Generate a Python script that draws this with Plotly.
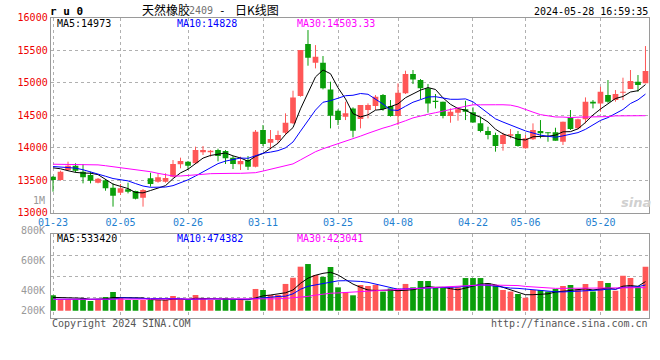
import plotly.graph_objects as go

# ---------------- data ----------------
dates = [
    "01-23", "01-24", "01-25", "01-26", "01-29", "01-30", "01-31", "02-01", "02-02",
    "02-05", "02-06", "02-07", "02-08",
    "02-19", "02-20", "02-21", "02-22", "02-23",
    "02-26", "02-27", "02-28", "02-29", "03-01",
    "03-04", "03-05", "03-06", "03-07", "03-08",
    "03-11", "03-12", "03-13", "03-14", "03-15",
    "03-18", "03-19", "03-20", "03-21", "03-22",
    "03-25", "03-26", "03-27", "03-28", "03-29",
    "04-01", "04-02", "04-03",
    "04-08", "04-09", "04-10", "04-11", "04-12",
    "04-15", "04-16", "04-17", "04-18", "04-19",
    "04-22", "04-23", "04-24", "04-25", "04-26",
    "04-29", "04-30",
    "05-06", "05-07", "05-08", "05-09", "05-10",
    "05-13", "05-14", "05-15", "05-16", "05-17",
    "05-20", "05-21", "05-22", "05-23", "05-24",
    "05-27", "05-28",
]

opens = [13554, 13502, 13656, 13723, 13630, 13579, 13461, 13497, 13385, 13308,
         13359, 13333, 13231, 13528, 13477, 13477, 13554, 13743, 13784, 13759,
         13928, 13928, 13964, 13948, 13846, 13743, 13810, 13707, 14271, 14076,
         14117, 14230, 14373, 14793, 15592, 15305, 15305, 14895, 14567, 14476,
         14603, 14440, 14578, 14639, 14808, 14639, 14486, 14834, 15131, 15039,
         14911, 14721, 14706, 14486, 14537, 14588, 14542, 14373, 14255, 14194,
         14056, 14184, 14209, 13989, 14127, 14255, 14235, 14235, 14091, 14465,
         14296, 14435, 14706, 14680, 14808, 14731, 14845, 14900, 15013, 14988]
highs = [13564, 13646, 13784, 13759, 13748, 13630, 13533, 13513, 13451, 13441,
         13461, 13338, 13364, 13615, 13605, 13605, 13810, 13846, 13795, 14015,
         14025, 13964, 13984, 13964, 13871, 13861, 13871, 14271, 14347, 14271,
         14261, 14527, 14875, 15500, 15807, 15576, 15408, 15013, 14588, 14706,
         14619, 14655, 14680, 14808, 14824, 14731, 14988, 15182, 15193, 15054,
         14977, 14824, 14706, 14603, 14619, 14721, 14619, 14476, 14321, 14230,
         14230, 14286, 14255, 14194, 14373, 14424, 14235, 14306, 14399, 14578,
         14445, 14772, 14731, 14936, 15039, 14885, 15075, 15193, 15116, 15561]
lows = [13323, 13492, 13646, 13615, 13451, 13451, 13451, 13338, 13093, 13272,
        13297, 13205, 13093, 13400, 13461, 13461, 13543, 13682, 13671, 13748,
        13887, 13861, 13790, 13748, 13671, 13656, 13656, 13697, 14025, 13974,
        14066, 14194, 14363, 14783, 15259, 15218, 14895, 14296, 14347, 14424,
        14158, 14296, 14450, 14578, 14567, 14476, 14347, 14824, 14977, 14741,
        14537, 14603, 14450, 14383, 14414, 14424, 14383, 14235, 14127, 13938,
        13953, 14143, 14015, 13984, 14117, 14143, 14091, 14107, 14040, 14271,
        14281, 14373, 14603, 14552, 14690, 14706, 14731, 14900, 14860, 14988]
closes = [13502, 13630, 13723, 13646, 13543, 13492, 13523, 13374, 13262, 13374,
          13323, 13216, 13349, 13441, 13543, 13533, 13748, 13795, 13723, 13964,
          13964, 13953, 13871, 13836, 13748, 13795, 13707, 14245, 14056, 14133,
          14194, 14383, 14772, 15500, 15382, 15398, 14911, 14491, 14424, 14527,
          14261, 14655, 14655, 14783, 14593, 14486, 14844, 15131, 15049, 14911,
          14680, 14700, 14486, 14552, 14588, 14552, 14388, 14255, 14194, 14025,
          14194, 14204, 14025, 14143, 14271, 14220, 14220, 14107, 14399, 14286,
          14435, 14706, 14680, 14860, 14706, 14824, 14860, 15024, 14962, 15177]

ma5 = [13690, 13675, 13645, 13620, 13609, 13607, 13585, 13516, 13439, 13405,
       13371, 13310, 13305, 13341, 13374, 13416, 13523, 13612, 13668, 13753,
       13839, 13880, 13895, 13918, 13874, 13841, 13791, 13866, 13910, 13987,
       14067, 14202, 14308, 14596, 14846, 15087, 15193, 15136, 14921, 14750,
       14523, 14472, 14504, 14576, 14589, 14634, 14672, 14767, 14821, 14884,
       14923, 14894, 14765, 14666, 14601, 14576, 14513, 14467, 14395, 14283,
       14211, 14174, 14128, 14118, 14167, 14173, 14176, 14192, 14243, 14246,
       14289, 14387, 14501, 14593, 14677, 14755, 14786, 14855, 14875, 14969]
ma10 = [13710, 13705, 13700, 13685, 13660, 13630, 13600, 13560, 13525, 13507,
        13489, 13448, 13410, 13390, 13390, 13394, 13416, 13458, 13505, 13564,
        13628, 13701, 13754, 13793, 13814, 13840, 13836, 13881, 13914, 13931,
        13954, 13997, 14087, 14253, 14417, 14577, 14697, 14722, 14759, 14798,
        14805, 14832, 14820, 14749, 14670, 14579, 14572, 14636, 14698, 14737,
        14779, 14783, 14766, 14743, 14743, 14749, 14704, 14616, 14531, 14442,
        14393, 14344, 14298, 14257, 14225, 14192, 14175, 14160, 14181, 14207,
        14231, 14281, 14347, 14418, 14462, 14522, 14586, 14678, 14734, 14823]
ma30 = [13745, 13745, 13743, 13742, 13740, 13738, 13735, 13722, 13707, 13697,
        13682, 13671, 13656, 13630, 13605, 13579, 13564, 13564, 13569, 13579,
        13590, 13600, 13605, 13605, 13605, 13605, 13607, 13615, 13640, 13667,
        13690, 13715, 13750, 13812, 13873, 13937, 13983, 14020, 14059, 14098,
        14129, 14177, 14220, 14265, 14300, 14332, 14368, 14413, 14457, 14489,
        14513, 14537, 14558, 14582, 14610, 14635, 14658, 14658, 14663, 14659,
        14659, 14653, 14628, 14583, 14546, 14507, 14484, 14471, 14470, 14462,
        14468, 14469, 14470, 14473, 14477, 14488, 14488, 14485, 14482, 14491]

volumes = [364000, 337000, 337000, 337000, 346000, 325000, 337000, 353000, 386000, 346000,
           332000, 332000, 332000, 332000, 332000, 332000, 359000, 332000, 332000, 366000,
           346000, 332000, 332000, 346000, 332000, 332000, 327000, 407000, 400000, 366000,
           366000, 441000, 483000, 558000, 576000, 502000, 489000, 556000, 418000, 386000,
           364000, 434000, 427000, 435000, 389000, 410000, 410000, 441000, 418000, 461000,
           461000, 418000, 418000, 418000, 418000, 481000, 481000, 481000, 445000, 434000,
           400000, 389000, 373000, 348000, 400000, 400000, 389000, 407000, 427000, 434000,
           405000, 441000, 389000, 461000, 447000, 395000, 497000, 481000, 418000, 558000]
vol_ma5 = [350000, 348000, 346000, 345000, 344000, 336000, 336000, 340000, 349000, 349000,
           351000, 350000, 346000, 335000, 332000, 332000, 337000, 337000, 337000, 344000,
           342000, 342000, 342000, 338000, 335000, 335000, 334000, 346000, 360000, 366000,
           374000, 381000, 400000, 445000, 480000, 500000, 513000, 520000, 502000, 470000,
           440000, 418000, 400000, 397000, 399000, 399000, 395000, 396000, 402000, 412000,
           423000, 418000, 418000, 409000, 401000, 413000, 426000, 439000, 444000, 435000,
           418000, 400000, 386000, 368000, 368000, 371000, 374000, 386000, 391000, 398000,
           401000, 408000, 400000, 406000, 414000, 405000, 426000, 430000, 425000, 457000]
vol_ma10 = [337000, 337000, 337000, 337000, 337000, 337000, 337000, 337000, 337000, 347000,
            344000, 343000, 343000, 342000, 341000, 341000, 344000, 342000, 336000, 338000,
            337000, 340000, 340000, 338000, 340000, 338000, 338000, 344000, 349000, 351000,
            356000, 358000, 374000, 405000, 425000, 435000, 445000, 455000, 462000, 463000,
            462000, 458000, 452000, 440000, 430000, 415000, 405000, 408000, 411000, 411000,
            413000, 415000, 417000, 418000, 420000, 425000, 430000, 434000, 432000, 425000,
            418000, 413000, 411000, 406000, 401000, 395000, 389000, 388000, 387000, 389000,
            392000, 395000, 397000, 400000, 406000, 405000, 418000, 420000, 422000, 434000]
vol_ma30 = [337000, 337000, 337000, 337000, 337000, 337000, 337000, 337000, 337000, 337000,
            337000, 337000, 337000, 337000, 337000, 337000, 337000, 337000, 337000, 337000,
            337000, 337000, 337000, 337000, 337000, 337000, 337000, 337000, 337000, 337000,
            340000, 343000, 346000, 350000, 357000, 365000, 372000, 378000, 380000, 382000,
            385000, 389000, 392000, 395000, 398000, 400000, 403000, 406000, 408000, 412000,
            417000, 419000, 421000, 424000, 428000, 432000, 434000, 434000, 434000, 434000,
            434000, 433000, 430000, 424000, 420000, 416000, 412000, 411000, 411000, 411000,
            411000, 411000, 412000, 413000, 414000, 415000, 415000, 415000, 415000, 416000]

tick_dates = ["01-23", "02-05", "02-26", "03-11", "03-25", "04-08", "04-22", "05-06", "05-20"]
price_ticks = [13000, 13500, 14000, 14500, 15000, 15500, 16000]
vol_tick_labels = ["800K", "600K", "400K", "200K"]

# ---------------- styling ----------------
RED = "#FF5757"
GREEN = "#0A9E0A"
GRID = "#B0B0B0"
FRAME = "#9A9A9A"
MONO = "DejaVu Sans Mono"
CJK = "Noto Sans CJK SC"
W, H = 660, 360

n = len(dates)
xs = list(range(n))
up = [c >= o for o, c in zip(opens, closes)]
tick_idx = [dates.index(d) for d in tick_dates]

fig = go.Figure()

# candlesticks: wicks + bodies
for flag, col in ((True, RED), (False, GREEN)):
    wx, wy = [], []
    bx, bbase, bh = [], [], []
    for i in xs:
        if up[i] != flag:
            continue
        wx += [i, i, None]
        wy += [lows[i], highs[i], None]
        bx.append(i)
        bbase.append(min(opens[i], closes[i]))
        bh.append(max(abs(closes[i] - opens[i]), 8))
    fig.add_trace(go.Bar(x=bx, y=bh, base=bbase, width=0.76,
                         marker=dict(color=col, line=dict(width=0)),
                         xaxis="x", yaxis="y", hoverinfo="skip"))
    fig.add_trace(go.Scatter(x=wx, y=wy, mode="lines",
                             line=dict(color=col, width=1),
                             xaxis="x", yaxis="y", hoverinfo="skip"))

for arr, col in ((ma5, "#000000"), (ma10, "#0000FF"), (ma30, "#FF00FF")):
    fig.add_trace(go.Scatter(x=xs, y=arr, mode="lines", line=dict(color=col, width=1),
                             xaxis="x", yaxis="y", hoverinfo="skip"))

# volume
VOL_BASE = 259600
vcolors = [RED if u else GREEN for u in up]
fig.add_trace(go.Bar(x=xs, y=[v - VOL_BASE for v in volumes], base=VOL_BASE, width=0.76,
                     marker=dict(color=vcolors, line=dict(width=0)),
                     xaxis="x2", yaxis="y2", hoverinfo="skip"))
for arr, col in ((vol_ma5, "#000000"), (vol_ma10, "#0000FF"), (vol_ma30, "#FF00FF")):
    fig.add_trace(go.Scatter(x=xs, y=arr, mode="lines", line=dict(color=col, width=1),
                             xaxis="x2", yaxis="y2", hoverinfo="skip"))

xdom = [50.7 / W, 649.3 / W]
xrange_ = [-0.31, n - 0.49]

common_x = dict(domain=xdom, range=xrange_, tickmode="array", tickvals=tick_idx,
                showgrid=True, gridcolor=GRID, griddash="dot", gridwidth=1,
                showline=True, mirror=True, linecolor=FRAME, linewidth=1,
                ticks="", zeroline=False, fixedrange=True, automargin=False)

fig.update_layout(
    width=W, height=H,
    margin=dict(l=0, r=0, t=0, b=0, pad=0, autoexpand=False),
    paper_bgcolor="white", plot_bgcolor="white",
    showlegend=False, barmode="overlay", hovermode=False,
    xaxis=dict(**common_x, anchor="y", ticktext=tick_dates,
               tickfont=dict(family=MONO, size=10, color="#1F7FD0")),
    yaxis=dict(domain=[1 - 212.7 / H, 1 - 17.5 / H], range=[13000, 16000],
               tickmode="array", tickvals=price_ticks, ticktext=[str(t) for t in price_ticks],
               tickfont=dict(family=MONO, size=10, color="#EE0000"),
               showgrid=True, gridcolor=GRID, griddash="dot", gridwidth=1,
               showline=True, mirror=True, linecolor=FRAME, linewidth=1,
               ticks="", zeroline=False, fixedrange=True, anchor="x", automargin=False),
    xaxis2=dict(**common_x, anchor="y2", showticklabels=False),
    yaxis2=dict(domain=[1 - 318 / H, 1 - 234.3 / H], range=[210100, 777600],
                tickmode="array", tickvals=[351900, 493600, 635500],
                showticklabels=False,
                showgrid=True, gridcolor=GRID, griddash="dot", gridwidth=1,
                showline=True, mirror=True, linecolor=FRAME, linewidth=1,
                ticks="", zeroline=False, fixedrange=True, anchor="x2", automargin=False),
)


def ann(text, x, y, color="#000000", size=10, xanchor="left", family=MONO):
    fig.add_annotation(text=text, x=x / W, y=1 - y / H, xref="paper", yref="paper",
                       xanchor=xanchor, yanchor="middle", showarrow=False,
                       font=dict(family=family, size=size, color=color))


ann("<b>r u 0</b>", 48, 11.5, "#000000", 11)
ann("天然橡胶", 140, 9.5, "#000000", 12, family=CJK)
ann("2409", 187, 10.5, "#707070", 10)
ann("-", 222, 10, "#000000", 11, xanchor="center")
ann("日K线图", 233, 9.5, "#000000", 12, family=CJK)
ann("2024-05-28 16:59:35", 650, 11, "#000000", 10, xanchor="right")

ann("MA5:14973", 55, 23.5, "#000000")
ann("MA10:14828", 175, 23.5, "#0000FF")
ann("MA30:14503.33", 295, 23.5, "#FF00FF")
ann("1M", 47, 200.7, "#999999", xanchor="right")

for lab, yy in zip(vol_tick_labels, [230.7, 260.8, 290, 310]):
    ann(lab, 47, yy, "#999999", xanchor="right")
ann("MA5:533420", 55, 238.5, "#000000")
ann("MA10:474382", 175, 238.5, "#0000FF")
ann("MA30:423041", 295, 238.5, "#FF00FF")

ann("Copyright 2024 SINA.COM", 50, 323.5, "#555555")
ann("http://finance.sina.com.cn", 650, 323.5, "#555555", xanchor="right")
ann("<b><i>sina</i></b>", 636, 202, "#D0D0D0", 13, xanchor="center", family="DejaVu Sans")

fig.write_html("out.html",
               config={"displayModeBar": False, "staticPlot": True},
               post_script="document.body.style.margin='0';document.body.style.overflow='hidden';")
